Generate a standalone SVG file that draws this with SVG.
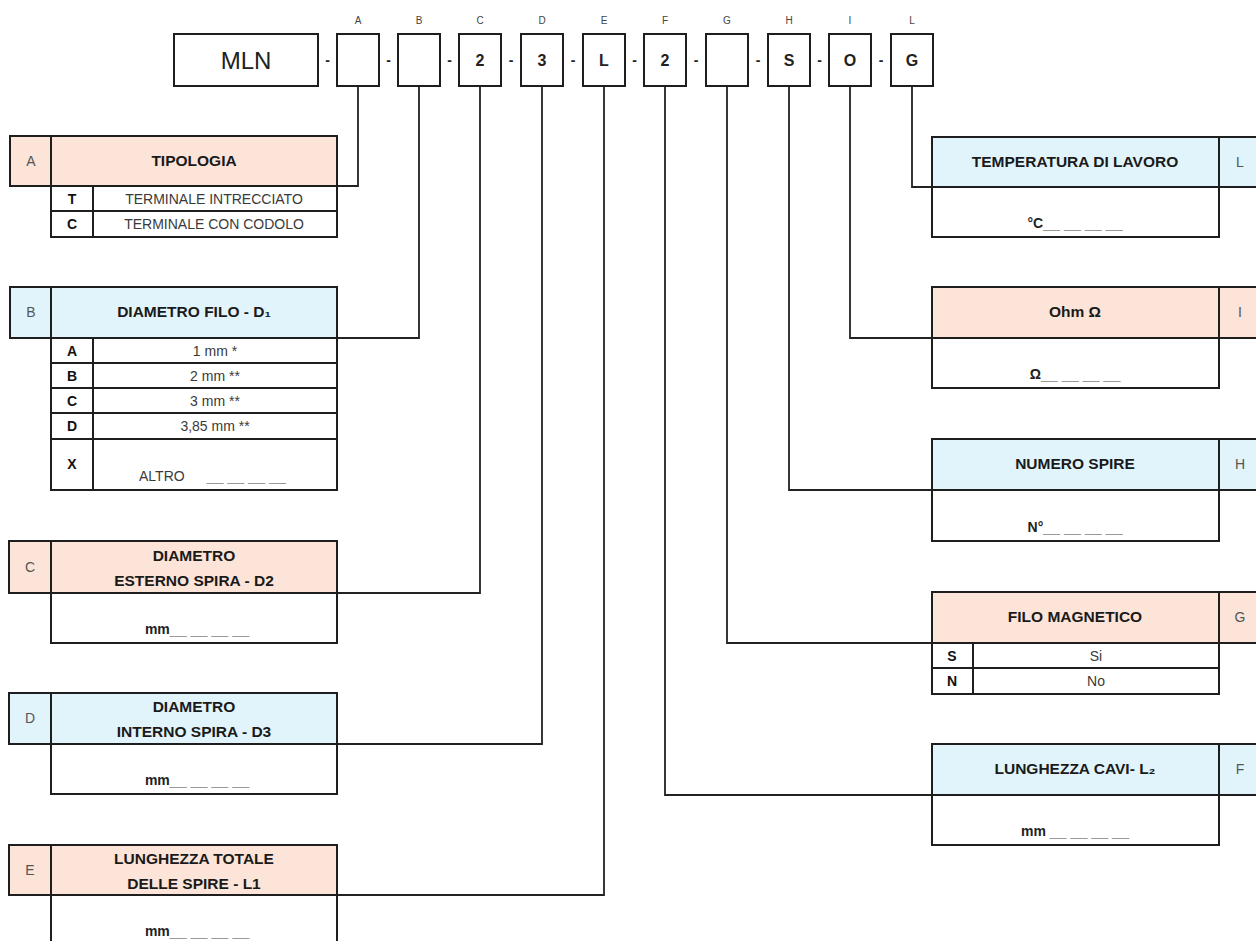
<svg xmlns="http://www.w3.org/2000/svg" width="1256" height="941" viewBox="0 0 1256 941">
<style>
.bx{fill:#fff;stroke:#1e1e1e;stroke-width:2}
.pk{fill:#fce4d8;stroke:#1e1e1e;stroke-width:2}
.bl{fill:#e2f4fb;stroke:#1e1e1e;stroke-width:2}
.ln{fill:none;stroke:#1e1e1e;stroke-width:2}
.cn{fill:none;stroke:#222;stroke-width:1.8}
text{font-family:"Liberation Sans",Arial,sans-serif}
.top{font-size:10px;fill:#444;text-anchor:middle}
.dash{font-size:14px;font-weight:bold;fill:#222;text-anchor:middle}
.code{font-size:16px;font-weight:bold;fill:#222;text-anchor:middle}
.hd{font-size:15.5px;font-weight:bold;fill:#1a1a1a;text-anchor:middle}
.lb{font-size:14px;fill:#555;text-anchor:middle}
.rl{font-size:14px;font-weight:bold;fill:#111;text-anchor:middle}
.rt{font-size:14px;fill:#3a3a3a;text-anchor:middle}
.val{font-size:14px;font-weight:bold;fill:#222;text-anchor:middle}
.us{fill:#999;font-weight:normal;font-size:15px}
</style>

<g id="connectors">
<polyline class="cn" points="358,86 358,186 337,186"/>
<polyline class="cn" points="419,86 419,338 337,338"/>
<polyline class="cn" points="480,86 480,593 337,593"/>
<polyline class="cn" points="542,86 542,744 337,744"/>
<polyline class="cn" points="604,86 604,895 337,895"/>
<polyline class="cn" points="665,86 665,795 932,795"/>
<polyline class="cn" points="727,86 727,643 932,643"/>
<polyline class="cn" points="789,86 789,490 932,490"/>
<polyline class="cn" points="850,86 850,338 932,338"/>
<polyline class="cn" points="912,86 912,187 932,187"/>
</g>

<g id="code">
<rect class="bx" x="174" y="34" width="144" height="52"/>
<text x="246" y="69" style="font-size:24px;fill:#222;text-anchor:middle">MLN</text>
<text class="top" x="358" y="24">A</text>
<text class="top" x="419" y="24">B</text>
<text class="top" x="480" y="24">C</text>
<text class="top" x="542" y="24">D</text>
<text class="top" x="604" y="24">E</text>
<text class="top" x="665" y="24">F</text>
<text class="top" x="727" y="24">G</text>
<text class="top" x="789" y="24">H</text>
<text class="top" x="850" y="24">I</text>
<text class="top" x="912" y="24">L</text>
<rect class="bx" x="337" y="34" width="42" height="52"/>
<rect class="bx" x="398" y="34" width="42" height="52"/>
<rect class="bx" x="459" y="34" width="42" height="52"/>
<rect class="bx" x="521" y="34" width="42" height="52"/>
<rect class="bx" x="583" y="34" width="42" height="52"/>
<rect class="bx" x="644" y="34" width="42" height="52"/>
<rect class="bx" x="706" y="34" width="42" height="52"/>
<rect class="bx" x="768" y="34" width="42" height="52"/>
<rect class="bx" x="829" y="34" width="42" height="52"/>
<rect class="bx" x="891" y="34" width="42" height="52"/>
<text class="code" x="480" y="66">2</text>
<text class="code" x="542" y="66">3</text>
<text class="code" x="604" y="66">L</text>
<text class="code" x="665" y="66">2</text>
<text class="code" x="789" y="66">S</text>
<text class="code" x="850" y="66">O</text>
<text class="code" x="912" y="66">G</text>
<text class="dash" x="327.5" y="65">-</text>
<text class="dash" x="388.5" y="65">-</text>
<text class="dash" x="449.5" y="65">-</text>
<text class="dash" x="511" y="65">-</text>
<text class="dash" x="573" y="65">-</text>
<text class="dash" x="634.5" y="65">-</text>
<text class="dash" x="696" y="65">-</text>
<text class="dash" x="758" y="65">-</text>
<text class="dash" x="819.5" y="65">-</text>
<text class="dash" x="881" y="65">-</text>
</g>

<g id="panel-A">
<rect class="pk" x="10" y="136" width="327" height="50"/>
<line class="ln" x1="51" y1="136" x2="51" y2="186"/>
<text class="lb" x="31" y="166">A</text>
<text class="hd" x="194" y="166">TIPOLOGIA</text>
<rect class="bx" x="51" y="186" width="286" height="25"/>
<rect class="bx" x="51" y="211" width="286" height="26"/>
<line class="ln" x1="93" y1="186" x2="93" y2="237"/>
<text class="rl" x="72" y="204">T</text>
<text class="rt" x="214" y="204">TERMINALE INTRECCIATO</text>
<text class="rl" x="72" y="229">C</text>
<text class="rt" x="214" y="229">TERMINALE CON CODOLO</text>
</g>

<g id="panel-B">
<rect class="bl" x="10" y="287" width="327" height="51"/>
<line class="ln" x1="51" y1="287" x2="51" y2="338"/>
<text class="lb" x="31" y="317">B</text>
<text class="hd" x="194" y="317">DIAMETRO FILO - D₁</text>
<rect class="bx" x="51" y="338" width="286" height="25"/>
<rect class="bx" x="51" y="363" width="286" height="25"/>
<rect class="bx" x="51" y="388" width="286" height="25"/>
<rect class="bx" x="51" y="413" width="286" height="26"/>
<rect class="bx" x="51" y="439" width="286" height="51"/>
<line class="ln" x1="93" y1="338" x2="93" y2="490"/>
<text class="rl" x="72" y="356">A</text>
<text class="rt" x="215" y="356">1 mm *</text>
<text class="rl" x="72" y="381">B</text>
<text class="rt" x="215" y="381">2 mm **</text>
<text class="rl" x="72" y="406">C</text>
<text class="rt" x="215" y="406">3 mm **</text>
<text class="rl" x="72" y="431">D</text>
<text class="rt" x="215" y="431">3,85 mm **</text>
<text class="rl" x="72" y="469">X</text>
<text class="rt" x="139" y="481" style="text-anchor:start">ALTRO<tspan class="us" dx="22">__ __ __ __</tspan></text>
</g>

<g id="panel-C">
<rect class="pk" x="9" y="541" width="328" height="52"/>
<line class="ln" x1="51" y1="541" x2="51" y2="593"/>
<rect class="bx" x="51" y="593" width="286" height="50"/>
<text class="lb" x="30" y="572">C</text>
<text class="hd" x="194" y="561">DIAMETRO</text>
<text class="hd" x="194" y="586">ESTERNO SPIRA - D2</text>
<text class="val" x="197" y="634">mm<tspan class="us">__ __ __ __</tspan></text>
</g>

<g id="panel-D">
<rect class="bl" x="9" y="693" width="328" height="51"/>
<line class="ln" x1="51" y1="693" x2="51" y2="744"/>
<rect class="bx" x="51" y="744" width="286" height="50"/>
<text class="lb" x="30" y="723">D</text>
<text class="hd" x="194" y="712">DIAMETRO</text>
<text class="hd" x="194" y="737">INTERNO SPIRA  - D3</text>
<text class="val" x="197" y="785">mm<tspan class="us">__ __ __ __</tspan></text>
</g>

<g id="panel-E">
<rect class="pk" x="9" y="845" width="328" height="50"/>
<line class="ln" x1="51" y1="845" x2="51" y2="895"/>
<rect class="bx" x="51" y="895" width="286" height="60"/>
<text class="lb" x="30" y="875">E</text>
<text class="hd" x="194" y="864">LUNGHEZZA  TOTALE</text>
<text class="hd" x="194" y="889">DELLE SPIRE - L1</text>
<text class="val" x="197" y="936">mm<tspan class="us">__ __ __ __</tspan></text>
</g>

<g id="panel-L">
<rect class="bl" x="932" y="137" width="287" height="50"/>
<rect class="bl" x="1219" y="137" width="50" height="50"/>
<rect class="bx" x="932" y="187" width="287" height="50"/>
<text class="hd" x="1075" y="167">TEMPERATURA DI LAVORO</text>
<text class="lb" x="1240" y="167">L</text>
<text class="val" x="1075" y="228">°C<tspan class="us">__ __ __ __</tspan></text>
</g>

<g id="panel-I">
<rect class="pk" x="932" y="287" width="287" height="51"/>
<rect class="pk" x="1219" y="287" width="50" height="51"/>
<rect class="bx" x="932" y="338" width="287" height="50"/>
<text class="hd" x="1075" y="317">Ohm Ω</text>
<text class="lb" x="1240" y="317">I</text>
<text class="val" x="1075" y="379">Ω<tspan class="us">__ __ __ __</tspan></text>
</g>

<g id="panel-H">
<rect class="bl" x="932" y="439" width="287" height="51"/>
<rect class="bl" x="1219" y="439" width="50" height="51"/>
<rect class="bx" x="932" y="490" width="287" height="51"/>
<text class="hd" x="1075" y="469">NUMERO SPIRE</text>
<text class="lb" x="1240" y="469">H</text>
<text class="val" x="1075" y="532">N°<tspan class="us">__ __ __ __</tspan></text>
</g>

<g id="panel-G">
<rect class="pk" x="932" y="592" width="287" height="51"/>
<rect class="pk" x="1219" y="592" width="50" height="51"/>
<rect class="bx" x="932" y="643" width="287" height="25"/>
<rect class="bx" x="932" y="668" width="287" height="26"/>
<line class="ln" x1="973" y1="643" x2="973" y2="694"/>
<text class="hd" x="1075" y="622">FILO MAGNETICO</text>
<text class="lb" x="1240" y="622">G</text>
<text class="rl" x="952" y="661">S</text>
<text class="rt" x="1096" y="661">Si</text>
<text class="rl" x="952" y="686">N</text>
<text class="rt" x="1096" y="686">No</text>
</g>

<g id="panel-F">
<rect class="bl" x="932" y="744" width="287" height="51"/>
<rect class="bl" x="1219" y="744" width="50" height="51"/>
<rect class="bx" x="932" y="795" width="287" height="50"/>
<text class="hd" x="1075" y="774">LUNGHEZZA CAVI- L₂</text>
<text class="lb" x="1240" y="774">F</text>
<text class="val" x="1075" y="836">mm <tspan class="us">__ __ __ __</tspan></text>
</g>
</svg>
